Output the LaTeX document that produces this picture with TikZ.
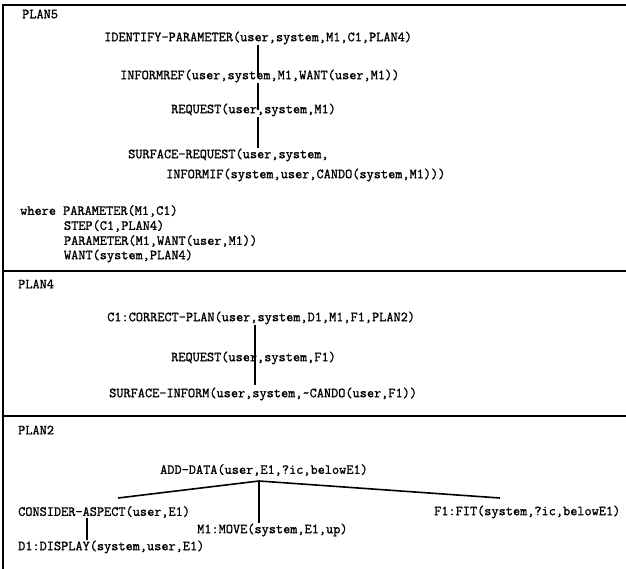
\documentclass[tikz,border=0pt]{standalone}
\usepackage{fontspec}
\newfontfamily\courlike[FakeBold=1.2]{Latin Modern Mono}
\begin{document}
\begin{tikzpicture}[x=1pt,y=-1pt,
  lbl/.style={anchor=west,inner sep=0pt,font=\fontsize{13.9}{15}\selectfont\courlike},
  conn/.style={line width=1.2pt},
  treeln/.style={line width=1.6pt},
  sep/.style={line width=1.6pt}]
\useasboundingbox (0,0) rectangle (626,569);
\fill[white] (0,0) rectangle (626,569);
% frame and separators
\draw[sep] (626,5) -- (3,5) -- (3,569);
\draw[sep] (3,271) -- (626,271);
\draw[sep] (3,416) -- (626,416);
% PLAN5
\node[lbl] (p5) at (22,14) {PLAN5};
\node[lbl] (ip) at (104,38) {IDENTIFY-PARAMETER(user,system,M1,C1,PLAN4)};
\node[lbl] (ir) at (120,76) {INFORMREF(user,system,M1,WANT(user,M1))};
\node[lbl] (rq) at (171,110) {REQUEST(user,system,M1)};
\node[lbl] (sr) at (128,155) {SURFACE-REQUEST(user,system,};
\node[lbl] (sr2) at (166,175) {INFORMIF(system,user,CANDO(system,M1)))};
\node[lbl] (w1) at (20,211) {where PARAMETER(M1,C1)};
\node[lbl] (w2) at (63.8,226) {STEP(C1,PLAN4)};
\node[lbl] (w3) at (63.8,241) {PARAMETER(M1,WANT(user,M1))};
\node[lbl] (w4) at (63.8,256) {WANT(system,PLAN4)};
\coordinate (xa) at (258,0);
\draw[conn] (ip.south -| xa) -- (ir.center -| xa);
\draw[conn] (ir.south -| xa) -- (rq.center -| xa);
\draw[conn] (rq.south -| xa) -- (sr.north -| xa);
% PLAN4
\node[lbl] (p4) at (18,284) {PLAN4};
\node[lbl] (cp) at (107,318) {C1:CORRECT-PLAN(user,system,D1,M1,F1,PLAN2)};
\node[lbl] (rq4) at (171,358) {REQUEST(user,system,F1)};
\node[lbl] (si) at (109,394) {SURFACE-INFORM(user,system,\textasciitilde CANDO(user,F1))};
\coordinate (xb) at (255,0);
\draw[conn] (cp.south -| xb) -- (rq4.center -| xb);
\draw[conn] (rq4.center -| xb) -- ([yshift=2pt]si.north -| xb);
% PLAN2
\node[lbl] (p2) at (18,430) {PLAN2};
\node[lbl] (ad) at (160,470) {ADD-DATA(user,E1,?ic,belowE1)};
\node[lbl] (ca) at (18,512) {CONSIDER-ASPECT(user,E1)};
\node[lbl] (ft) at (434,512) {F1:FIT(system,?ic,belowE1)};
\node[lbl] (mv) at (197,530) {M1:MOVE(system,E1,up)};
\node[lbl] (dd) at (18,547) {D1:DISPLAY(system,user,E1)};
\coordinate (apex) at (259,481);
\coordinate (lt) at (118,498);
\coordinate (rt) at (500,498);
\draw[treeln] (lt) -- (apex) -- (rt);
\draw[treeln] (apex) -- (mv.north -| apex);
\coordinate (xd) at (87,0);
\draw[conn] (ca.south -| xd) -- (dd.north -| xd);
\end{tikzpicture}
\end{document}
